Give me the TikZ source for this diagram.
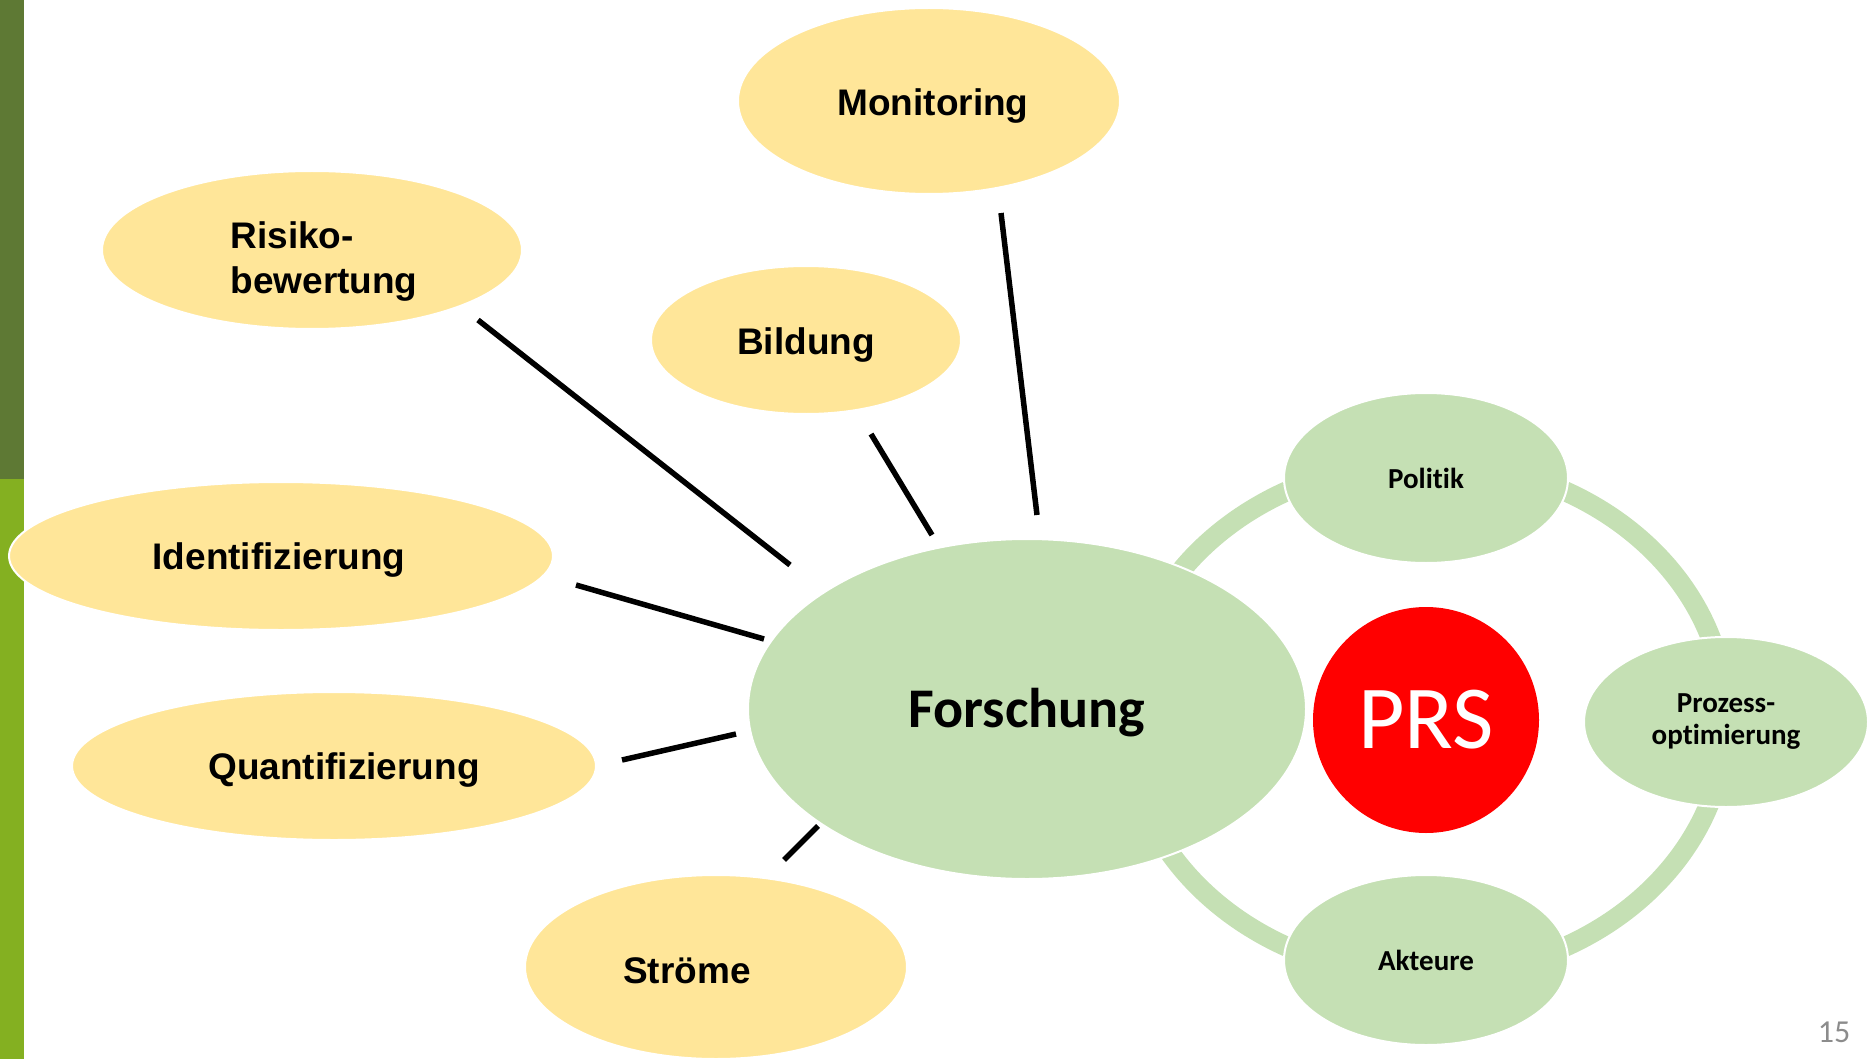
\documentclass[tikz,border=0pt]{standalone}
\usepackage{fontspec}
\setmainfont{Liberation Sans}
\newfontfamily\calfont[Ligatures=NoCommon]{Carlito}
\usetikzlibrary{shapes.geometric}

\definecolor{barDark}{RGB}{94,121,52}
\definecolor{barLight}{RGB}{132,176,33}
\definecolor{goldFill}{RGB}{255,230,153}
\definecolor{sageFill}{RGB}{197,224,180}
\definecolor{pageGrey}{RGB}{140,140,140}

\tikzset{
  topic/.style={ellipse, fill=goldFill, draw=white, line width=2pt, inner sep=0pt},
  topictext/.style={inner sep=0pt, align=left, font=\bfseries\fontsize{37}{45}\selectfont},
  cyclebox/.style={ellipse, fill=sageFill, draw=white, line width=2pt, inner sep=0pt,
    minimum width=284pt, minimum height=170pt,
    font=\calfont\bfseries\fontsize{29}{32}\selectfont},
  spoke/.style={line width=5.5pt, black},
  ring/.style={line width=20pt, sageFill}
}

\begin{document}
\begin{tikzpicture}[x=1pt,y=-1pt]
\useasboundingbox (0,0) rectangle (1868,1059);

% side bar
\fill[barDark] (0,0) rectangle (24,479);
\fill[barLight] (0,479) rectangle (24,1059);

% cycle ring around the hub
\coordinate (ringc) at (1426,719);
\draw[ring] (ringc) ellipse [x radius=300pt, y radius=257pt];

% topic ellipses, each with its caption set slightly off centre
\node[topic, minimum width=382pt, minimum height=186pt,
  label={[topictext, xshift=4pt, yshift=-5pt]center:Monitoring}] (mon) at (929,101) {};
\node[topic, minimum width=420pt, minimum height=158pt,
  label={[topictext, xshift=12pt, yshift=-12pt]center:Risiko-\\bewertung}] (risk) at (312,250) {};
\node[topic, minimum width=310pt, minimum height=148pt,
  label={[topictext, yshift=-5pt]center:Bildung}] (bild) at (806,340) {};
\node[topic, minimum width=544pt, minimum height=148pt,
  label={[topictext, xshift=-2pt, yshift=-4pt]center:Identifizierung}] (ident) at (281,556) {};
\node[topic, minimum width=524pt, minimum height=148pt,
  label={[topictext, xshift=10pt, yshift=-4pt]center:Quantifizierung}] (quant) at (334,766) {};
\node[topic, minimum width=382pt, minimum height=184pt,
  label={[topictext, xshift=-29pt, yshift=-4pt]center:Ströme}] (strom) at (716,967) {};

% cycle members
\node[ellipse, fill=sageFill, draw=white, line width=2pt, inner sep=0pt,
  minimum width=558pt, minimum height=340pt,
  label={[inner sep=0pt, yshift=-4pt, font=\calfont\bfseries\fontsize{56}{60}\selectfont]center:Forschung}]
  (fo) at (1027,709) {};
\node[cyclebox] (pol) at (1426,478) {Politik};
\node[cyclebox] (akt) at (1426,960) {Akteure};
\node[cyclebox, align=center] (proz) at (1726,722) {Prozess-\\optimierung};

% hub
\node[circle, fill=red, inner sep=0pt, minimum size=226pt, text=white,
  font=\calfont\fontsize{90}{90}\selectfont] (prs) at (1426,720) {PRS};

% spokes between topics and Forschung
\coordinate (r1) at (478,320);  \coordinate (r2) at (790,565);
\coordinate (b1) at (871,434);  \coordinate (b2) at (932,535);
\coordinate (m1) at (1001,213); \coordinate (m2) at (1037,515);
\coordinate (i1) at (576,585);  \coordinate (i2) at (764,639);
\coordinate (q1) at (622,760);  \coordinate (q2) at (736,734);
\coordinate (s1) at (784,860);  \coordinate (s2) at (818,826);
\draw[spoke] (r1) -- (r2);
\draw[spoke] (b1) -- (b2);
\draw[spoke] (m1) -- (m2);
\draw[spoke] (i1) -- (i2);
\draw[spoke] (q1) -- (q2);
\draw[spoke] (s1) -- (s2);

% page number
\node[text=pageGrey, font=\calfont\fontsize{32}{32}\selectfont] (pg) at (1834,1032) {15};
\end{tikzpicture}
\end{document}
